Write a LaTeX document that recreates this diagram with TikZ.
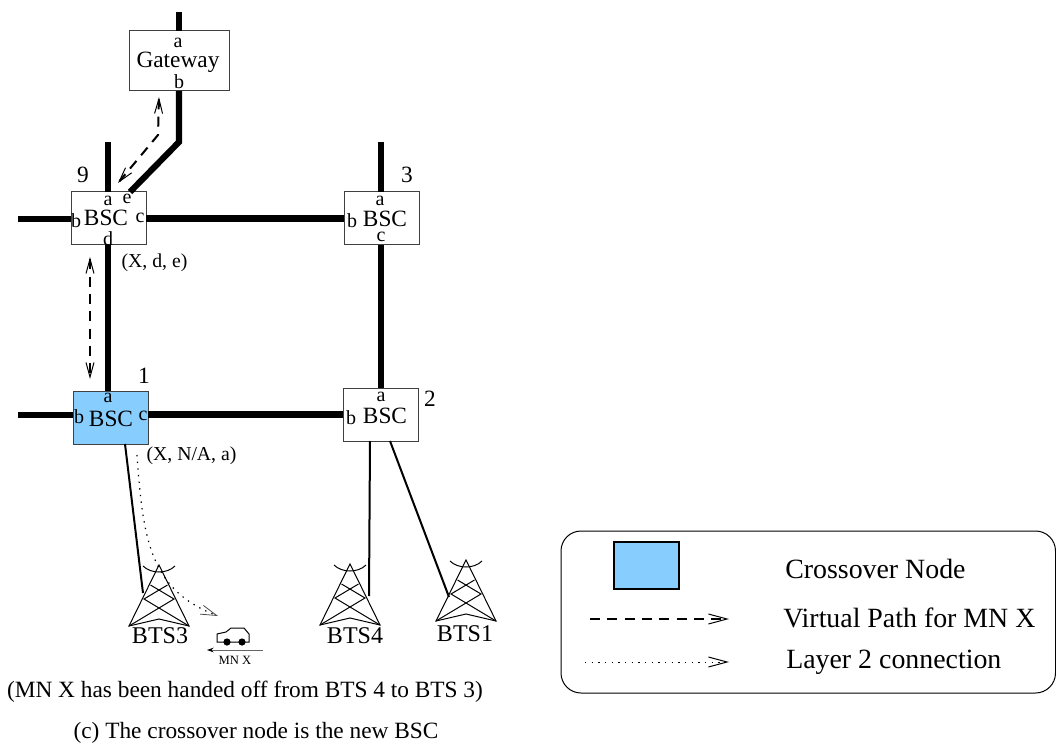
\documentclass[tikz,border=0pt]{standalone}
\usepackage{fontspec}
\setmainfont{Liberation Serif}
\usetikzlibrary{arrows.meta,calc}
\definecolor{xblue}{HTML}{87CEFF}
\tikzset{
  x=0.75pt,y=-0.75pt,
  netbox/.style={draw=black!75,line width=0.75pt,fill=white,inner sep=0pt,outer sep=0pt,minimum width=56.25pt,minimum height=39.75pt},
  xfer/.style={netbox,fill=xblue},
  trunk/.style={line width=4.6pt,line cap=butt,line join=miter},
  access/.style={line width=1.5pt},
  vpath/.style={line width=1.5pt,dash pattern=on 7.5pt off 5.5pt},
  layertwo/.style={line width=0.9pt,dash pattern=on 1pt off 4pt},
  bharrow/.style={-{Straight Barb[length=14pt,width=7.5pt,line width=0.75pt]}},
  bbarrow/.style={{Straight Barb[length=11pt,width=6pt,line width=0.75pt]}-{Straight Barb[length=11pt,width=6pt,line width=0.75pt]}},
  port/.style={inner sep=0pt,font=\fontsize{15}{17}\selectfont},
  boxname/.style={inner sep=0pt,font=\fontsize{17.5}{20}\selectfont},
  num/.style={inner sep=0pt,font=\fontsize{17.5}{20}\selectfont},
  state/.style={inner sep=0pt,font=\fontsize{14.8}{17}\selectfont},
  btsname/.style={inner sep=0pt,anchor=base,font=\fontsize{18}{20}\selectfont},
  legendtxt/.style={inner sep=0pt,anchor=base west,font=\fontsize{20.9}{24}\selectfont},
  captxt/.style={inner sep=0pt,anchor=base,font=\fontsize{17.5}{20}\selectfont},
  mast/.style={line width=0.75pt,line join=miter},
}
\newcommand{\tower}[2]{%
  \begin{scope}[shift={(#1)}]
    \coordinate (#2) at (0,0);
    \draw[mast] (-30,61) -- (0,0) -- (30,61) -- (0,54) -- cycle;
    \draw[mast] (-8.5,20) -- (15,34) -- (-30,61);
    \draw[mast] (8.5,20) -- (-15,34) -- (30,61);
    \draw[mast] (-16,1) .. controls (-8,9) and (8,9) .. (16,1);
  \end{scope}}
\begin{document}
\begin{tikzpicture}
\useasboundingbox (0,0) rectangle (1056,745);

% network boxes
\node[netbox,minimum width=75pt,minimum height=45pt] (gw) at (179,61) {};
\node[netbox] (b9) at (108.5,218.5) {};
\node[netbox] (b3) at (381.5,218.5) {};
\node[xfer]   (b1) at (110.5,417.5) {};
\node[netbox] (b2) at (380.5,414.5) {};

% free ends
\coordinate (gwtop) at (179,12);
\coordinate (gwbend) at (179,142);
\coordinate (b9top) at (108,142);
\coordinate (b3top) at (381,142);
\coordinate (b9left) at (18,219);
\coordinate (b1left) at (18,415);
\coordinate (b9e) at (130,192);

% trunk links
\draw[trunk] (gwtop) -- (gw.north);
\draw[trunk] (gw.south) -- (gwbend) -- (b9e);
\draw[trunk] (b9top) -- (b9top |- b9.north);
\draw[trunk] (b3top) -- (b3top |- b3.north);
\draw[trunk] (b9left) -- (b9left -| b9.west);
\draw[trunk] (b9.east) -- (b3.west);
\draw[trunk] (b9top |- b9.south) -- (b9top |- b1.north);
\draw[trunk] (b3top |- b3.south) -- (b3top |- b2.north);
\draw[trunk] (b1left) -- (b1left -| b1.west);
\draw[trunk] (b1.east |- b2.west) -- (b2.west);

% towers
\tower{159,565}{t3}
\tower{350,564}{t4}
\tower{466,560}{t1}

% access links
\coordinate (a3s) at (125,444);
\coordinate (a3e) at (143,593);
\coordinate (a4s) at (370,441);
\coordinate (a4e) at (369,596);
\coordinate (a1s) at (390,441);
\coordinate (a1e) at (449,597);
\draw[access] (a3s) -- (a3e);
\draw[access] (a4s) -- (a4e);
\draw[access] (a1s) -- (a1e);

% virtual paths
\coordinate (v1s) at (159,97);
\coordinate (v1m) at (158,135);
\coordinate (v1e) at (118,183);
\coordinate (v2s) at (90,257);
\coordinate (v2e) at (90,379);
\draw[vpath,bbarrow] (v1s) -- (v1m) -- (v1e);
\draw[vpath,bbarrow] (v2s) -- (v2e);

% layer 2 connection
\coordinate (l2s) at (137,455);
\coordinate (l2e) at (218,616);
\draw[layertwo,arrows={-{Straight Barb[length=12pt,width=7pt,line width=0.6pt,black!70]}}] (l2s) .. controls (143,540) and (150,590) .. (l2e);

% port labels
\node[port] (gwa) at (178,43) {a};
\node[port] (gwb) at (179,82) {b};
\node[boxname] (gwn) at (178,62) {Gateway};
\node[port] (p9a) at (108,201) {a};
\node[port] (p9e) at (127,199) {e};
\node[port] (p9b) at (76,221) {b};
\node[port] (p9c) at (140,218) {c};
\node[port] (p9d) at (108,239) {d};
\node[boxname] (n9) at (106,218) {BSC};
\node[port] (p3a) at (380,201) {a};
\node[port] (p3b) at (352,221) {b};
\node[port] (p3c) at (381,237) {c};
\node[boxname] (n3) at (385,219) {BSC};
\node[port] (p1a) at (108,398) {a};
\node[port] (p1b) at (79,417) {b};
\node[port] (p1c) at (143,416) {c};
\node[boxname] (n1) at (111,419) {BSC};
\node[port] (p2a) at (381,397) {a};
\node[port] (p2b) at (351,418) {b};
\node[boxname] (n2) at (385,416) {BSC};

% switch numbers
\node[num] (l9) at (83,175) {9};
\node[num] (l3) at (407,175) {3};
\node[num] (l1) at (144,376) {1};
\node[num] (l2) at (430,399) {2};

% state
\node[state] (s9) at (154.5,263) {(X, d, e)};
\node[state] (s1) at (191.5,456) {(X, N/A, a)};

% BTS names
\node[btsname] (n3t) at (160,643) {BTS3};
\node[btsname] (n4t) at (355,643) {BTS4};
\node[btsname] (n1t) at (465,641) {BTS1};

% mobile node
\draw[line width=0.75pt,fill=white] (217,642) -- (217,634) -- (226,632) -- (231,628) -- (244,628) -- (249,634) -- (249,642) -- cycle;
\fill (227,642) circle (3.6);
\fill (242,642) circle (3.6);
\coordinate (mvs) at (263,650);
\coordinate (mve) at (207,650);
\draw[line width=0.75pt,black!60,-{Stealth[length=5pt,width=3.5pt,black]}] (mvs) -- (mve);
\node[inner sep=0pt,font=\fontsize{9.5}{11}\selectfont] (mn) at (235,660) {MN X};

% captions
\node[captxt] (c1) at (245,697) {(MN X has been handed off from BTS 4 to BTS 3)};
\node[captxt] (c2) at (256,738) {(c) The crossover node is the new BSC};

% legend
\draw[line width=0.75pt,rounded corners=15pt] (561,531) rectangle (1055.5,693);
\node[draw=black,line width=0.9pt,fill=xblue,inner sep=0pt,minimum width=48.75pt,minimum height=35.25pt] (k1) at (646.5,565.5) {};
\coordinate (k2s) at (590,619);
\coordinate (k2e) at (729,619);
\coordinate (k3s) at (585,662);
\coordinate (k3e) at (729,662);
\draw[vpath,bharrow] (k2s) -- (k2e);
\draw[line width=0.75pt,dash pattern=on 1pt off 4pt,bharrow] (k3s) -- (k3e);
\node[legendtxt] (t1) at (785,578) {Crossover Node};
\node[legendtxt] (t2) at (783,627) {Virtual Path for MN X};
\node[legendtxt] (t3x) at (786,668) {Layer 2 connection};
\end{tikzpicture}
\end{document}
